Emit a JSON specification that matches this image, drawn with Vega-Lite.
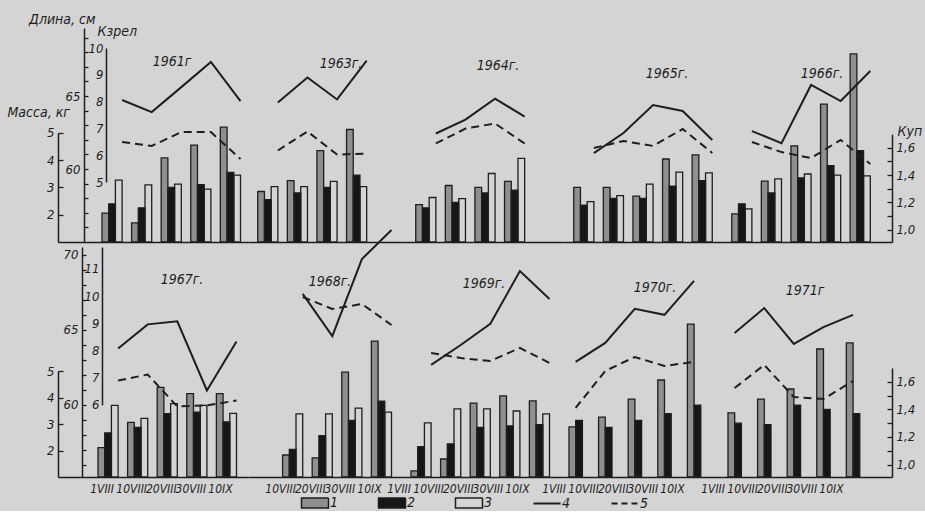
{
"$schema": "https://vega.github.io/schema/vega-lite/v6.json",
"background": "#d4d4d4",
"padding": {"left": 7, "top": 12, "right": 5, "bottom": 0},
"config": {"view": {"stroke": null}, "font": "Liberation Sans Narrow, DejaVu Sans Condensed, Liberation Sans, sans-serif",
 "axis": {"grid": false, "domainColor": "#1e1e1e", "tickColor": "#1e1e1e", "labelColor": "#1e1e1e", "titleColor": "#1e1e1e", "labelFontStyle": "italic", "titleFontStyle": "italic", "titleFontWeight": "normal", "domainWidth": 1.5, "tickWidth": 1.3, "labelFontSize": 13, "titleFontSize": 14, "labelFlush": false, "labelOverlap": false},
 "title": {"fontStyle": "italic", "fontWeight": "normal", "fontSize": 14, "color": "#1e1e1e", "anchor": "middle", "frame": "group", "baseline": "alphabetic"}},
"data": {"values": [
{"yr":1961,"d":"1VIII","s":"1","v":2.06},{"yr":1961,"d":"10VIII","s":"1","v":1.70},{"yr":1961,"d":"20VIII","s":"1","v":4.08},{"yr":1961,"d":"30VIII","s":"1","v":4.55},{"yr":1961,"d":"10IX","s":"1","v":5.21},
{"yr":1961,"d":"1VIII","s":"2","v":1.19},{"yr":1961,"d":"10VIII","s":"2","v":1.16},{"yr":1961,"d":"20VIII","s":"2","v":1.31},{"yr":1961,"d":"30VIII","s":"2","v":1.33},{"yr":1961,"d":"10IX","s":"2","v":1.42},
{"yr":1961,"d":"1VIII","s":"3","v":3.27},{"yr":1961,"d":"10VIII","s":"3","v":3.09},{"yr":1961,"d":"20VIII","s":"3","v":3.12},{"yr":1961,"d":"30VIII","s":"3","v":2.94},{"yr":1961,"d":"10IX","s":"3","v":3.45},
{"yr":1961,"d":"1VIII","s":"4","v":8.06},{"yr":1961,"d":"10VIII","s":"4","v":7.61},{"yr":1961,"d":"20VIII","s":"4","v":8.54},{"yr":1961,"d":"30VIII","s":"4","v":9.48},{"yr":1961,"d":"10IX","s":"4","v":8.02},
{"yr":1961,"d":"1VIII","s":"5","v":61.85},{"yr":1961,"d":"10VIII","s":"5","v":61.58},{"yr":1961,"d":"20VIII","s":"5","v":62.53},{"yr":1961,"d":"30VIII","s":"5","v":62.53},{"yr":1961,"d":"10IX","s":"5","v":60.68},
{"yr":1963,"d":"1VIII","s":"1","v":2.85},{"yr":1963,"d":"10VIII","s":"1","v":3.25},{"yr":1963,"d":"20VIII","s":"1","v":4.35},{"yr":1963,"d":"30VIII","s":"1","v":5.12},
{"yr":1963,"d":"1VIII","s":"2","v":1.22},{"yr":1963,"d":"10VIII","s":"2","v":1.27},{"yr":1963,"d":"20VIII","s":"2","v":1.31},{"yr":1963,"d":"30VIII","s":"2","v":1.40},
{"yr":1963,"d":"1VIII","s":"3","v":3.03},{"yr":1963,"d":"10VIII","s":"3","v":3.03},{"yr":1963,"d":"20VIII","s":"3","v":3.22},{"yr":1963,"d":"30VIII","s":"3","v":3.03},
{"yr":1963,"d":"1VIII","s":"4","v":7.97},{"yr":1963,"d":"10VIII","s":"4","v":8.90},{"yr":1963,"d":"20VIII","s":"4","v":8.08},{"yr":1963,"d":"30VIII","s":"4","v":9.53},
{"yr":1963,"d":"1VIII","s":"5","v":61.27},{"yr":1963,"d":"10VIII","s":"5","v":62.57},{"yr":1963,"d":"20VIII","s":"5","v":60.99},{"yr":1963,"d":"30VIII","s":"5","v":61.06},
{"yr":1964,"d":"1VIII","s":"1","v":2.37},{"yr":1964,"d":"10VIII","s":"1","v":3.07},{"yr":1964,"d":"20VIII","s":"1","v":3.00},{"yr":1964,"d":"30VIII","s":"1","v":3.22},
{"yr":1964,"d":"1VIII","s":"2","v":1.16},{"yr":1964,"d":"10VIII","s":"2","v":1.20},{"yr":1964,"d":"20VIII","s":"2","v":1.27},{"yr":1964,"d":"30VIII","s":"2","v":1.29},
{"yr":1964,"d":"1VIII","s":"3","v":2.63},{"yr":1964,"d":"10VIII","s":"3","v":2.59},{"yr":1964,"d":"20VIII","s":"3","v":3.51},{"yr":1964,"d":"30VIII","s":"3","v":4.06},
{"yr":1964,"d":"1VIII","s":"4","v":6.81},{"yr":1964,"d":"10VIII","s":"4","v":7.33},{"yr":1964,"d":"20VIII","s":"4","v":8.11},{"yr":1964,"d":"30VIII","s":"4","v":7.44},
{"yr":1964,"d":"1VIII","s":"5","v":61.75},{"yr":1964,"d":"10VIII","s":"5","v":62.77},{"yr":1964,"d":"20VIII","s":"5","v":63.12},{"yr":1964,"d":"30VIII","s":"5","v":61.75},
{"yr":1965,"d":"1VIII","s":"1","v":3.00},{"yr":1965,"d":"10VIII","s":"1","v":3.00},{"yr":1965,"d":"20VIII","s":"1","v":2.68},{"yr":1965,"d":"30VIII","s":"1","v":4.04},{"yr":1965,"d":"10IX","s":"1","v":4.19},
{"yr":1965,"d":"1VIII","s":"2","v":1.18},{"yr":1965,"d":"10VIII","s":"2","v":1.23},{"yr":1965,"d":"20VIII","s":"2","v":1.23},{"yr":1965,"d":"30VIII","s":"2","v":1.32},{"yr":1965,"d":"10IX","s":"2","v":1.36},
{"yr":1965,"d":"1VIII","s":"3","v":2.48},{"yr":1965,"d":"10VIII","s":"3","v":2.70},{"yr":1965,"d":"20VIII","s":"3","v":3.12},{"yr":1965,"d":"30VIII","s":"3","v":3.56},{"yr":1965,"d":"10IX","s":"3","v":3.53},
{"yr":1965,"d":"1VIII","s":"4","v":6.08},{"yr":1965,"d":"10VIII","s":"4","v":6.83},{"yr":1965,"d":"20VIII","s":"4","v":7.87},{"yr":1965,"d":"30VIII","s":"4","v":7.65},{"yr":1965,"d":"10IX","s":"4","v":6.57},
{"yr":1965,"d":"1VIII","s":"5","v":61.44},{"yr":1965,"d":"10VIII","s":"5","v":61.92},{"yr":1965,"d":"20VIII","s":"5","v":61.58},{"yr":1965,"d":"30VIII","s":"5","v":62.74},{"yr":1965,"d":"10IX","s":"5","v":61.10},
{"yr":1966,"d":"1VIII","s":"1","v":2.03},{"yr":1966,"d":"10VIII","s":"1","v":3.23},{"yr":1966,"d":"20VIII","s":"1","v":4.52},{"yr":1966,"d":"30VIII","s":"1","v":6.05},{"yr":1966,"d":"10IX","s":"1","v":7.89},
{"yr":1966,"d":"1VIII","s":"2","v":1.19},{"yr":1966,"d":"10VIII","s":"2","v":1.27},{"yr":1966,"d":"20VIII","s":"2","v":1.38},{"yr":1966,"d":"30VIII","s":"2","v":1.47},{"yr":1966,"d":"10IX","s":"2","v":1.58},
{"yr":1966,"d":"1VIII","s":"3","v":2.21},{"yr":1966,"d":"10VIII","s":"3","v":3.31},{"yr":1966,"d":"20VIII","s":"3","v":3.49},{"yr":1966,"d":"30VIII","s":"3","v":3.45},{"yr":1966,"d":"10IX","s":"3","v":3.42},
{"yr":1966,"d":"1VIII","s":"4","v":6.90},{"yr":1966,"d":"10VIII","s":"4","v":6.45},{"yr":1966,"d":"20VIII","s":"4","v":8.62},{"yr":1966,"d":"30VIII","s":"4","v":8.02},{"yr":1966,"d":"10IX","s":"4","v":9.14},
{"yr":1966,"d":"1VIII","s":"5","v":61.85},{"yr":1966,"d":"10VIII","s":"5","v":61.16},{"yr":1966,"d":"20VIII","s":"5","v":60.75},{"yr":1966,"d":"30VIII","s":"5","v":61.99},{"yr":1966,"d":"10IX","s":"5","v":60.34},
{"yr":1967,"d":"1VIII","s":"1","v":2.11},{"yr":1967,"d":"10VIII","s":"1","v":3.06},{"yr":1967,"d":"20VIII","s":"1","v":4.38},{"yr":1967,"d":"30VIII","s":"1","v":4.15},{"yr":1967,"d":"10IX","s":"1","v":4.15},
{"yr":1967,"d":"1VIII","s":"2","v":1.23},{"yr":1967,"d":"10VIII","s":"2","v":1.27},{"yr":1967,"d":"20VIII","s":"2","v":1.37},{"yr":1967,"d":"30VIII","s":"2","v":1.38},{"yr":1967,"d":"10IX","s":"2","v":1.31},
{"yr":1967,"d":"1VIII","s":"3","v":3.70},{"yr":1967,"d":"10VIII","s":"3","v":3.21},{"yr":1967,"d":"20VIII","s":"3","v":3.77},{"yr":1967,"d":"30VIII","s":"3","v":3.70},{"yr":1967,"d":"10IX","s":"3","v":3.40},
{"yr":1967,"d":"1VIII","s":"4","v":8.07},{"yr":1967,"d":"10VIII","s":"4","v":8.96},{"yr":1967,"d":"20VIII","s":"4","v":9.07},{"yr":1967,"d":"30VIII","s":"4","v":6.53},{"yr":1967,"d":"10IX","s":"4","v":8.33},
{"yr":1967,"d":"1VIII","s":"5","v":61.63},{"yr":1967,"d":"10VIII","s":"5","v":62.03},{"yr":1967,"d":"20VIII","s":"5","v":59.90},{"yr":1967,"d":"30VIII","s":"5","v":59.97},{"yr":1967,"d":"10IX","s":"5","v":60.30},
{"yr":1968,"d":"10VIII","s":"1","v":1.83},{"yr":1968,"d":"20VIII","s":"1","v":1.72},{"yr":1968,"d":"30VIII","s":"1","v":4.96},{"yr":1968,"d":"10IX","s":"1","v":6.13},
{"yr":1968,"d":"10VIII","s":"2","v":1.11},{"yr":1968,"d":"20VIII","s":"2","v":1.21},{"yr":1968,"d":"30VIII","s":"2","v":1.32},{"yr":1968,"d":"10IX","s":"2","v":1.46},
{"yr":1968,"d":"10VIII","s":"3","v":3.38},{"yr":1968,"d":"20VIII","s":"3","v":3.38},{"yr":1968,"d":"30VIII","s":"3","v":3.60},{"yr":1968,"d":"10IX","s":"3","v":3.45},
{"yr":1968,"d":"10VIII","s":"4","v":10.08},{"yr":1968,"d":"20VIII","s":"4","v":8.53},{"yr":1968,"d":"30VIII","s":"4","v":11.36},{"yr":1968,"d":"10IX","s":"4","v":12.43},
{"yr":1968,"d":"10VIII","s":"5","v":67.20},{"yr":1968,"d":"20VIII","s":"5","v":66.40},{"yr":1968,"d":"30VIII","s":"5","v":66.73},{"yr":1968,"d":"10IX","s":"5","v":65.33},
{"yr":1969,"d":"1VIII","s":"1","v":1.23},{"yr":1969,"d":"10VIII","s":"1","v":1.68},{"yr":1969,"d":"20VIII","s":"1","v":3.79},{"yr":1969,"d":"30VIII","s":"1","v":4.06},{"yr":1969,"d":"10IX","s":"1","v":3.87},
{"yr":1969,"d":"1VIII","s":"2","v":1.13},{"yr":1969,"d":"10VIII","s":"2","v":1.15},{"yr":1969,"d":"20VIII","s":"2","v":1.27},{"yr":1969,"d":"30VIII","s":"2","v":1.28},{"yr":1969,"d":"10IX","s":"2","v":1.29},
{"yr":1969,"d":"1VIII","s":"3","v":3.04},{"yr":1969,"d":"10VIII","s":"3","v":3.57},{"yr":1969,"d":"20VIII","s":"3","v":3.57},{"yr":1969,"d":"30VIII","s":"3","v":3.49},{"yr":1969,"d":"10IX","s":"3","v":3.38},
{"yr":1969,"d":"1VIII","s":"4","v":7.47},{"yr":1969,"d":"10VIII","s":"4","v":8.20},{"yr":1969,"d":"20VIII","s":"4","v":8.98},{"yr":1969,"d":"30VIII","s":"4","v":10.92},{"yr":1969,"d":"10IX","s":"4","v":9.89},
{"yr":1969,"d":"1VIII","s":"5","v":63.47},{"yr":1969,"d":"10VIII","s":"5","v":63.13},{"yr":1969,"d":"20VIII","s":"5","v":62.93},{"yr":1969,"d":"30VIII","s":"5","v":63.80},{"yr":1969,"d":"10IX","s":"5","v":62.80},
{"yr":1970,"d":"1VIII","s":"1","v":2.89},{"yr":1970,"d":"10VIII","s":"1","v":3.26},{"yr":1970,"d":"20VIII","s":"1","v":3.94},{"yr":1970,"d":"30VIII","s":"1","v":4.66},{"yr":1970,"d":"10IX","s":"1","v":6.77},
{"yr":1970,"d":"1VIII","s":"2","v":1.32},{"yr":1970,"d":"10VIII","s":"2","v":1.27},{"yr":1970,"d":"20VIII","s":"2","v":1.32},{"yr":1970,"d":"30VIII","s":"2","v":1.37},{"yr":1970,"d":"10IX","s":"2","v":1.43},
{"yr":1970,"d":"1VIII","s":"4","v":7.58},{"yr":1970,"d":"10VIII","s":"4","v":8.28},{"yr":1970,"d":"20VIII","s":"4","v":9.53},{"yr":1970,"d":"30VIII","s":"4","v":9.31},{"yr":1970,"d":"10IX","s":"4","v":10.56},
{"yr":1970,"d":"1VIII","s":"5","v":59.80},{"yr":1970,"d":"10VIII","s":"5","v":62.27},{"yr":1970,"d":"20VIII","s":"5","v":63.20},{"yr":1970,"d":"30VIII","s":"5","v":62.60},{"yr":1970,"d":"10IX","s":"5","v":62.87},
{"yr":1971,"d":"1VIII","s":"1","v":3.42},{"yr":1971,"d":"10VIII","s":"1","v":3.94},{"yr":1971,"d":"20VIII","s":"1","v":4.32},{"yr":1971,"d":"30VIII","s":"1","v":5.83},{"yr":1971,"d":"10IX","s":"1","v":6.06},
{"yr":1971,"d":"1VIII","s":"2","v":1.30},{"yr":1971,"d":"10VIII","s":"2","v":1.29},{"yr":1971,"d":"20VIII","s":"2","v":1.43},{"yr":1971,"d":"30VIII","s":"2","v":1.40},{"yr":1971,"d":"10IX","s":"2","v":1.37},
{"yr":1971,"d":"1VIII","s":"4","v":8.64},{"yr":1971,"d":"10VIII","s":"4","v":9.56},{"yr":1971,"d":"20VIII","s":"4","v":8.24},{"yr":1971,"d":"30VIII","s":"4","v":8.86},{"yr":1971,"d":"10IX","s":"4","v":9.31},
{"yr":1971,"d":"1VIII","s":"5","v":61.13},{"yr":1971,"d":"10VIII","s":"5","v":62.67},{"yr":1971,"d":"20VIII","s":"5","v":60.53},{"yr":1971,"d":"30VIII","s":"5","v":60.40},{"yr":1971,"d":"10IX","s":"5","v":61.60}
]},
"columns": 5,
"spacing": {"row": 5, "column": 0},
"bounds": "flush",
"concat": [
 {"width": 190, "height": 214, "title": {"text": "1961г", "dx": 19, "offset": -57},
  "transform": [{"filter": "datum.yr == 1961"}], "resolve": {"scale": {"y": "independent"}},
  "layer": [
   {"transform": [{"filter": "datum.s == '1' || datum.s == '3'"}], "mark": {"type": "bar", "stroke": "#1e1e1e", "strokeWidth": 1.3},
    "encoding": {
     "x": {"field": "d", "type": "ordinal", "scale": {"domain": ["_","1VIII","10VIII","20VIII","30VIII","10IX"], "paddingInner": 0.32, "paddingOuter": 0.37, "align": 0.657}, "axis": {"labels": false, "ticks": false, "title": null}},
     "xOffset": {"field": "s", "type": "nominal", "scale": {"domain": ["1","2","3"]}},
     "y": {"field": "v", "type": "quantitative", "scale": {"domain": [1,5], "range": [214,104.8], "nice": false, "zero": false},
           "axis": {"orient": "left", "offset": 0, "values": [2,3,4,5], "tickSize": -5, "labelPadding": 9, "title": "Масса, кг", "titleAngle": 0, "titleX": -51, "titleY": 88, "titleAlign": "left", "titleBaseline": "alphabetic"}},
     "y2": {"datum": 1},
     "fill": {"field": "s", "type": "nominal", "scale": {"domain": ["1","2","3","4","5"], "range": ["#8f8f8f","#161616","#d4d4d4","#161616","#161616"]},
       "legend": {"orient": "none", "legendX": 250, "legendY": 468, "direction": "horizontal", "title": null, "symbolType": "M-1,-0.37H1V0.37H-1Z", "symbolSize": 729, "symbolStrokeColor": "#1e1e1e", "symbolStrokeWidth": 1.5, "labelFontSize": 14, "labelFontStyle": "italic", "labelColor": "#1e1e1e", "labelOffset": 8, "columnPadding": 36,
         "encode": {"symbols": {"update": {"shape": {"signal": "datum.value > '3' ? 'M-1,0H1' : 'M-1,-0.37H1V0.37H-1Z'"}, "strokeDash": {"signal": "datum.value == '5' ? [6,4] : [1,0]"}, "strokeWidth": {"signal": "datum.value > '3' ? 2 : 1.5"}}}}}}
    }},
   {"transform": [{"filter": "datum.s == '2'"}], "mark": {"type": "bar", "stroke": "#1e1e1e", "strokeWidth": 1.3},
    "encoding": {
     "x": {"field": "d", "type": "ordinal", "scale": {"domain": ["_","1VIII","10VIII","20VIII","30VIII","10IX"], "paddingInner": 0.32, "paddingOuter": 0.37, "align": 0.657}},
     "xOffset": {"field": "s", "type": "nominal", "scale": {"domain": ["1","2","3"]}},
     "y": {"field": "v", "type": "quantitative", "scale": {"domain": [0.91,1.7], "range": [214,106.2], "nice": false, "zero": false}, "axis": null},
     "y2": {"datum": 0.91},
     "fill": {"field": "s", "type": "nominal", "scale": {"domain": ["1","2","3","4","5"], "range": ["#8f8f8f","#161616","#d4d4d4","#161616","#161616"]}}
    }},
   {"transform": [{"filter": "datum.s == '4'"}], "mark": {"type": "line", "stroke": "#1e1e1e", "strokeWidth": 2},
    "encoding": {
     "x": {"field": "d", "type": "ordinal", "bandPosition": 1, "scale": {"domain": ["_","1VIII","10VIII","20VIII","30VIII","10IX"], "paddingInner": 0.32, "paddingOuter": 0.37, "align": 0.657}},
     "y": {"field": "v", "type": "quantitative", "scale": {"domain": [5,10], "range": [154,20], "nice": false, "zero": false},
           "axis": {"orient": "left", "offset": -48, "values": [5,6,7,8,9,10], "ticks": false, "labelPadding": 3, "title": "Кзрел", "titleAngle": 0, "titleX": -9, "titleY": 7, "titleAlign": "left", "titleBaseline": "alphabetic"}},
     "order": {"value": null}
    }},
   {"transform": [{"filter": "datum.s == '5'"}], "mark": {"type": "line", "stroke": "#1e1e1e", "strokeWidth": 2, "strokeDash": [8,5]},
    "encoding": {
     "x": {"field": "d", "type": "ordinal", "bandPosition": 1, "scale": {"domain": ["_","1VIII","10VIII","20VIII","30VIII","10IX"], "paddingInner": 0.32, "paddingOuter": 0.37, "align": 0.657}},
     "y": {"field": "v", "type": "quantitative", "scale": {"domain": [55,69.66], "range": [214,0], "nice": false, "zero": false},
           "axis": {"orient": "left", "offset": -26, "values": [56,57,58,59,60,61,62,63,64,65,66,67,68,69], "tickSize": -4, "labelPadding": 8, "labelExpr": "datum.value % 5 == 0 ? datum.label : ''", "title": "Длина, см", "titleAngle": 0, "titleX": 11, "titleY": -5, "titleAlign": "right", "titleBaseline": "alphabetic"}},
     "order": {"value": null}
    }}
  ]},
 {"width": 158, "height": 214, "title": {"text": "1963г.", "dx": 14, "offset": -43},
  "transform": [{"filter": "datum.yr == 1963"}], "resolve": {"scale": {"y": "independent"}},
  "layer": [
   {"transform": [{"filter": "datum.s == '1' || datum.s == '3'"}], "mark": {"type": "bar", "stroke": "#1e1e1e", "strokeWidth": 1.3},
    "encoding": {
     "x": {"field": "d", "type": "ordinal", "scale": {"domain": ["1VIII","10VIII","20VIII","30VIII","10IX"], "paddingInner": 0.32, "paddingOuter": 0.329, "align": 0.5}, "axis": {"labels": false, "ticks": false, "title": null}},
     "xOffset": {"field": "s", "type": "nominal", "scale": {"domain": ["1","2","3"]}},
     "y": {"field": "v", "type": "quantitative", "scale": {"domain": [1,5], "range": [214,104.8], "nice": false, "zero": false}, "axis": null},
     "y2": {"datum": 1},
     "fill": {"field": "s", "type": "nominal", "scale": {"domain": ["1","2","3","4","5"], "range": ["#8f8f8f","#161616","#d4d4d4","#161616","#161616"]}}
    }},
   {"transform": [{"filter": "datum.s == '2'"}], "mark": {"type": "bar", "stroke": "#1e1e1e", "strokeWidth": 1.3},
    "encoding": {
     "x": {"field": "d", "type": "ordinal", "scale": {"domain": ["1VIII","10VIII","20VIII","30VIII","10IX"], "paddingInner": 0.32, "paddingOuter": 0.329, "align": 0.5}},
     "xOffset": {"field": "s", "type": "nominal", "scale": {"domain": ["1","2","3"]}},
     "y": {"field": "v", "type": "quantitative", "scale": {"domain": [0.91,1.7], "range": [214,106.2], "nice": false, "zero": false}, "axis": null},
     "y2": {"datum": 0.91},
     "fill": {"field": "s", "type": "nominal", "scale": {"domain": ["1","2","3","4","5"], "range": ["#8f8f8f","#161616","#d4d4d4","#161616","#161616"]}}
    }},
   {"transform": [{"filter": "datum.s == '4'"}], "mark": {"type": "line", "stroke": "#1e1e1e", "strokeWidth": 2},
    "encoding": {
     "x": {"field": "d", "type": "ordinal", "bandPosition": 1, "scale": {"domain": ["1VIII","10VIII","20VIII","30VIII","10IX"], "paddingInner": 0.32, "paddingOuter": 0.329, "align": 0.5}},
     "y": {"field": "v", "type": "quantitative", "scale": {"domain": [5,10], "range": [154,20], "nice": false, "zero": false}, "axis": null},
     "order": {"value": null}
    }},
   {"transform": [{"filter": "datum.s == '5'"}], "mark": {"type": "line", "stroke": "#1e1e1e", "strokeWidth": 2, "strokeDash": [8,5]},
    "encoding": {
     "x": {"field": "d", "type": "ordinal", "bandPosition": 1, "scale": {"domain": ["1VIII","10VIII","20VIII","30VIII","10IX"], "paddingInner": 0.32, "paddingOuter": 0.329, "align": 0.5}},
     "y": {"field": "v", "type": "quantitative", "scale": {"domain": [55,69.66], "range": [214,0], "nice": false, "zero": false}, "axis": null},
     "order": {"value": null}
    }}
  ]},
 {"width": 158, "height": 214, "title": {"text": "1964г.", "dx": 13, "offset": -45},
  "transform": [{"filter": "datum.yr == 1964"}], "resolve": {"scale": {"y": "independent"}},
  "layer": [
   {"transform": [{"filter": "datum.s == '1' || datum.s == '3'"}], "mark": {"type": "bar", "stroke": "#1e1e1e", "strokeWidth": 1.3},
    "encoding": {
     "x": {"field": "d", "type": "ordinal", "scale": {"domain": ["1VIII","10VIII","20VIII","30VIII","10IX"], "paddingInner": 0.32, "paddingOuter": 0.329, "align": 0.5}, "axis": {"labels": false, "ticks": false, "title": null}},
     "xOffset": {"field": "s", "type": "nominal", "scale": {"domain": ["1","2","3"]}},
     "y": {"field": "v", "type": "quantitative", "scale": {"domain": [1,5], "range": [214,104.8], "nice": false, "zero": false}, "axis": null},
     "y2": {"datum": 1},
     "fill": {"field": "s", "type": "nominal", "scale": {"domain": ["1","2","3","4","5"], "range": ["#8f8f8f","#161616","#d4d4d4","#161616","#161616"]}}
    }},
   {"transform": [{"filter": "datum.s == '2'"}], "mark": {"type": "bar", "stroke": "#1e1e1e", "strokeWidth": 1.3},
    "encoding": {
     "x": {"field": "d", "type": "ordinal", "scale": {"domain": ["1VIII","10VIII","20VIII","30VIII","10IX"], "paddingInner": 0.32, "paddingOuter": 0.329, "align": 0.5}},
     "xOffset": {"field": "s", "type": "nominal", "scale": {"domain": ["1","2","3"]}},
     "y": {"field": "v", "type": "quantitative", "scale": {"domain": [0.91,1.7], "range": [214,106.2], "nice": false, "zero": false}, "axis": null},
     "y2": {"datum": 0.91},
     "fill": {"field": "s", "type": "nominal", "scale": {"domain": ["1","2","3","4","5"], "range": ["#8f8f8f","#161616","#d4d4d4","#161616","#161616"]}}
    }},
   {"transform": [{"filter": "datum.s == '4'"}], "mark": {"type": "line", "stroke": "#1e1e1e", "strokeWidth": 2},
    "encoding": {
     "x": {"field": "d", "type": "ordinal", "bandPosition": 1, "scale": {"domain": ["1VIII","10VIII","20VIII","30VIII","10IX"], "paddingInner": 0.32, "paddingOuter": 0.329, "align": 0.5}},
     "y": {"field": "v", "type": "quantitative", "scale": {"domain": [5,10], "range": [154,20], "nice": false, "zero": false}, "axis": null},
     "order": {"value": null}
    }},
   {"transform": [{"filter": "datum.s == '5'"}], "mark": {"type": "line", "stroke": "#1e1e1e", "strokeWidth": 2, "strokeDash": [8,5]},
    "encoding": {
     "x": {"field": "d", "type": "ordinal", "bandPosition": 1, "scale": {"domain": ["1VIII","10VIII","20VIII","30VIII","10IX"], "paddingInner": 0.32, "paddingOuter": 0.329, "align": 0.5}},
     "y": {"field": "v", "type": "quantitative", "scale": {"domain": [55,69.66], "range": [214,0], "nice": false, "zero": false}, "axis": null},
     "order": {"value": null}
    }}
  ]},
 {"width": 158, "height": 214, "title": {"text": "1965г.", "dx": 24, "offset": -53},
  "transform": [{"filter": "datum.yr == 1965"}], "resolve": {"scale": {"y": "independent"}},
  "layer": [
   {"transform": [{"filter": "datum.s == '1' || datum.s == '3'"}], "mark": {"type": "bar", "stroke": "#1e1e1e", "strokeWidth": 1.3},
    "encoding": {
     "x": {"field": "d", "type": "ordinal", "scale": {"domain": ["1VIII","10VIII","20VIII","30VIII","10IX"], "paddingInner": 0.32, "paddingOuter": 0.329, "align": 0.5}, "axis": {"labels": false, "ticks": false, "title": null}},
     "xOffset": {"field": "s", "type": "nominal", "scale": {"domain": ["1","2","3"]}},
     "y": {"field": "v", "type": "quantitative", "scale": {"domain": [1,5], "range": [214,104.8], "nice": false, "zero": false}, "axis": null},
     "y2": {"datum": 1},
     "fill": {"field": "s", "type": "nominal", "scale": {"domain": ["1","2","3","4","5"], "range": ["#8f8f8f","#161616","#d4d4d4","#161616","#161616"]}}
    }},
   {"transform": [{"filter": "datum.s == '2'"}], "mark": {"type": "bar", "stroke": "#1e1e1e", "strokeWidth": 1.3},
    "encoding": {
     "x": {"field": "d", "type": "ordinal", "scale": {"domain": ["1VIII","10VIII","20VIII","30VIII","10IX"], "paddingInner": 0.32, "paddingOuter": 0.329, "align": 0.5}},
     "xOffset": {"field": "s", "type": "nominal", "scale": {"domain": ["1","2","3"]}},
     "y": {"field": "v", "type": "quantitative", "scale": {"domain": [0.91,1.7], "range": [214,106.2], "nice": false, "zero": false}, "axis": null},
     "y2": {"datum": 0.91},
     "fill": {"field": "s", "type": "nominal", "scale": {"domain": ["1","2","3","4","5"], "range": ["#8f8f8f","#161616","#d4d4d4","#161616","#161616"]}}
    }},
   {"transform": [{"filter": "datum.s == '4'"}], "mark": {"type": "line", "stroke": "#1e1e1e", "strokeWidth": 2},
    "encoding": {
     "x": {"field": "d", "type": "ordinal", "bandPosition": 1, "scale": {"domain": ["1VIII","10VIII","20VIII","30VIII","10IX"], "paddingInner": 0.32, "paddingOuter": 0.329, "align": 0.5}},
     "y": {"field": "v", "type": "quantitative", "scale": {"domain": [5,10], "range": [154,20], "nice": false, "zero": false}, "axis": null},
     "order": {"value": null}
    }},
   {"transform": [{"filter": "datum.s == '5'"}], "mark": {"type": "line", "stroke": "#1e1e1e", "strokeWidth": 2, "strokeDash": [8,5]},
    "encoding": {
     "x": {"field": "d", "type": "ordinal", "bandPosition": 1, "scale": {"domain": ["1VIII","10VIII","20VIII","30VIII","10IX"], "paddingInner": 0.32, "paddingOuter": 0.329, "align": 0.5}},
     "y": {"field": "v", "type": "quantitative", "scale": {"domain": [55,69.66], "range": [214,0], "nice": false, "zero": false}, "axis": null},
     "order": {"value": null}
    }}
  ]},
 {"width": 170, "height": 214, "title": {"text": "1966г.", "dx": 15, "offset": -53},
  "transform": [{"filter": "datum.yr == 1966"}], "resolve": {"scale": {"y": "independent"}},
  "layer": [
   {"transform": [{"filter": "datum.s == '1' || datum.s == '3'"}], "mark": {"type": "bar", "stroke": "#1e1e1e", "strokeWidth": 1.3},
    "encoding": {
     "x": {"field": "d", "type": "ordinal", "scale": {"domain": ["1VIII","10VIII","20VIII","30VIII","10IX"], "paddingInner": 0.32, "paddingOuter": 0.532, "align": 0.31}, "axis": {"labels": false, "ticks": false, "title": null}},
     "xOffset": {"field": "s", "type": "nominal", "scale": {"domain": ["1","2","3"]}},
     "y": {"field": "v", "type": "quantitative", "scale": {"domain": [1,5], "range": [214,104.8], "nice": false, "zero": false}, "axis": null},
     "y2": {"datum": 1},
     "fill": {"field": "s", "type": "nominal", "scale": {"domain": ["1","2","3","4","5"], "range": ["#8f8f8f","#161616","#d4d4d4","#161616","#161616"]}}
    }},
   {"transform": [{"filter": "datum.s == '2'"}], "mark": {"type": "bar", "stroke": "#1e1e1e", "strokeWidth": 1.3},
    "encoding": {
     "x": {"field": "d", "type": "ordinal", "scale": {"domain": ["1VIII","10VIII","20VIII","30VIII","10IX"], "paddingInner": 0.32, "paddingOuter": 0.532, "align": 0.31}},
     "xOffset": {"field": "s", "type": "nominal", "scale": {"domain": ["1","2","3"]}},
     "y": {"field": "v", "type": "quantitative", "scale": {"domain": [0.91,1.7], "range": [214,106.2], "nice": false, "zero": false},
           "axis": {"orient": "right", "offset": 0, "values": [1.0,1.1,1.2,1.3,1.4,1.5,1.6], "tickSize": -5, "labelPadding": 9, "labelAlign": "left", "labelExpr": "indexof(['1.0','1.2','1.4','1.6'], format(datum.value, '.1f')) >= 0 ? replace(format(datum.value, '.1f'), '.', ',') : ''", "title": "Куп", "titleAngle": 0, "titleX": 5, "titleY": 107, "titleAlign": "left", "titleBaseline": "alphabetic"}},
     "y2": {"datum": 0.91},
     "fill": {"field": "s", "type": "nominal", "scale": {"domain": ["1","2","3","4","5"], "range": ["#8f8f8f","#161616","#d4d4d4","#161616","#161616"]}}
    }},
   {"transform": [{"filter": "datum.s == '4'"}], "mark": {"type": "line", "stroke": "#1e1e1e", "strokeWidth": 2},
    "encoding": {
     "x": {"field": "d", "type": "ordinal", "bandPosition": 1, "scale": {"domain": ["1VIII","10VIII","20VIII","30VIII","10IX"], "paddingInner": 0.32, "paddingOuter": 0.532, "align": 0.31}},
     "y": {"field": "v", "type": "quantitative", "scale": {"domain": [5,10], "range": [154,20], "nice": false, "zero": false}, "axis": null},
     "order": {"value": null}
    }},
   {"transform": [{"filter": "datum.s == '5'"}], "mark": {"type": "line", "stroke": "#1e1e1e", "strokeWidth": 2, "strokeDash": [8,5]},
    "encoding": {
     "x": {"field": "d", "type": "ordinal", "bandPosition": 1, "scale": {"domain": ["1VIII","10VIII","20VIII","30VIII","10IX"], "paddingInner": 0.32, "paddingOuter": 0.532, "align": 0.31}},
     "y": {"field": "v", "type": "quantitative", "scale": {"domain": [55,69.66], "range": [214,0], "nice": false, "zero": false}, "axis": null},
     "order": {"value": null}
    }}
  ]},
 {"width": 190, "height": 230, "title": {"text": "1967г.", "dx": 29, "offset": -40},
  "transform": [{"filter": "datum.yr == 1967"}], "resolve": {"scale": {"y": "independent"}},
  "layer": [
   {"transform": [{"filter": "datum.s == '1' || datum.s == '3'"}], "mark": {"type": "bar", "stroke": "#1e1e1e", "strokeWidth": 1.3},
    "encoding": {
     "x": {"field": "d", "type": "ordinal", "scale": {"domain": ["_","1VIII","10VIII","20VIII","30VIII","10IX"], "paddingInner": 0.32, "paddingOuter": 0.37, "align": 0.475}, "axis": {"values": ["1VIII","10VIII","20VIII","30VIII","10IX"], "ticks": false, "labelPadding": 6, "labelOffset": -6, "labelFontSize": 12, "labelAngle": 0, "title": null}},
     "xOffset": {"field": "s", "type": "nominal", "scale": {"domain": ["1","2","3"]}},
     "y": {"field": "v", "type": "quantitative", "scale": {"domain": [1,5], "range": [230,124], "nice": false, "zero": false},
           "axis": {"orient": "left", "offset": 0, "values": [2,3,4,5], "tickSize": -5, "labelPadding": 9, "title": null}},
     "y2": {"datum": 1},
     "fill": {"field": "s", "type": "nominal", "scale": {"domain": ["1","2","3","4","5"], "range": ["#8f8f8f","#161616","#d4d4d4","#161616","#161616"]}}
    }},
   {"transform": [{"filter": "datum.s == '2'"}], "mark": {"type": "bar", "stroke": "#1e1e1e", "strokeWidth": 1.3},
    "encoding": {
     "x": {"field": "d", "type": "ordinal", "scale": {"domain": ["_","1VIII","10VIII","20VIII","30VIII","10IX"], "paddingInner": 0.32, "paddingOuter": 0.37, "align": 0.475}},
     "xOffset": {"field": "s", "type": "nominal", "scale": {"domain": ["1","2","3"]}},
     "y": {"field": "v", "type": "quantitative", "scale": {"domain": [0.91,1.7], "range": [230,121], "nice": false, "zero": false}, "axis": null},
     "y2": {"datum": 0.91},
     "fill": {"field": "s", "type": "nominal", "scale": {"domain": ["1","2","3","4","5"], "range": ["#8f8f8f","#161616","#d4d4d4","#161616","#161616"]}}
    }},
   {"transform": [{"filter": "datum.s == '4'"}], "mark": {"type": "line", "stroke": "#1e1e1e", "strokeWidth": 2},
    "encoding": {
     "x": {"field": "d", "type": "ordinal", "bandPosition": 1, "scale": {"domain": ["_","1VIII","10VIII","20VIII","30VIII","10IX"], "paddingInner": 0.32, "paddingOuter": 0.37, "align": 0.475}},
     "y": {"field": "v", "type": "quantitative", "scale": {"domain": [6,11.8], "range": [157.9,0.1], "nice": false, "zero": false},
           "axis": {"orient": "left", "offset": -44, "values": [6,7,8,9,10,11], "ticks": false, "labelPadding": 3, "title": null}},
     "order": {"value": null}
    }},
   {"transform": [{"filter": "datum.s == '5'"}], "mark": {"type": "line", "stroke": "#1e1e1e", "strokeWidth": 2, "strokeDash": [8,5]},
    "encoding": {
     "x": {"field": "d", "type": "ordinal", "bandPosition": 1, "scale": {"domain": ["_","1VIII","10VIII","20VIII","30VIII","10IX"], "paddingInner": 0.32, "paddingOuter": 0.37, "align": 0.475}},
     "y": {"field": "v", "type": "quantitative", "scale": {"domain": [55.2,70.53], "range": [230,0], "nice": false, "zero": false},
           "axis": {"orient": "left", "offset": -24, "values": [56,57,58,59,60,61,62,63,64,65,66,67,68,69,70], "tickSize": -4, "labelPadding": 8, "labelExpr": "datum.value % 5 == 0 ? datum.label : ''", "title": null}},
     "order": {"value": null}
    }}
  ]},
 {"width": 158, "height": 230, "title": {"text": "1968г.", "dx": 3, "offset": -63},
  "transform": [{"filter": "datum.yr == 1968"}], "resolve": {"scale": {"y": "independent"}},
  "layer": [
   {"transform": [{"filter": "datum.s == '1' || datum.s == '3'"}], "mark": {"type": "bar", "stroke": "#1e1e1e", "strokeWidth": 1.3},
    "encoding": {
     "x": {"field": "d", "type": "ordinal", "scale": {"domain": ["1VIII","10VIII","20VIII","30VIII","10IX"], "paddingInner": 0.32, "paddingOuter": 0.329, "align": 0.256}, "axis": {"values": ["10VIII","20VIII","30VIII","10IX"], "ticks": false, "labelPadding": 6, "labelOffset": -12, "labelFontSize": 12, "labelAngle": 0, "title": null}},
     "xOffset": {"field": "s", "type": "nominal", "scale": {"domain": ["1","2","3"]}},
     "y": {"field": "v", "type": "quantitative", "scale": {"domain": [1,5], "range": [230,124], "nice": false, "zero": false}, "axis": null},
     "y2": {"datum": 1},
     "fill": {"field": "s", "type": "nominal", "scale": {"domain": ["1","2","3","4","5"], "range": ["#8f8f8f","#161616","#d4d4d4","#161616","#161616"]}}
    }},
   {"transform": [{"filter": "datum.s == '2'"}], "mark": {"type": "bar", "stroke": "#1e1e1e", "strokeWidth": 1.3},
    "encoding": {
     "x": {"field": "d", "type": "ordinal", "scale": {"domain": ["1VIII","10VIII","20VIII","30VIII","10IX"], "paddingInner": 0.32, "paddingOuter": 0.329, "align": 0.256}},
     "xOffset": {"field": "s", "type": "nominal", "scale": {"domain": ["1","2","3"]}},
     "y": {"field": "v", "type": "quantitative", "scale": {"domain": [0.91,1.7], "range": [230,121], "nice": false, "zero": false}, "axis": null},
     "y2": {"datum": 0.91},
     "fill": {"field": "s", "type": "nominal", "scale": {"domain": ["1","2","3","4","5"], "range": ["#8f8f8f","#161616","#d4d4d4","#161616","#161616"]}}
    }},
   {"transform": [{"filter": "datum.s == '4'"}], "mark": {"type": "line", "stroke": "#1e1e1e", "strokeWidth": 2},
    "encoding": {
     "x": {"field": "d", "type": "ordinal", "bandPosition": 1, "scale": {"domain": ["1VIII","10VIII","20VIII","30VIII","10IX"], "paddingInner": 0.32, "paddingOuter": 0.329, "align": 0.256}},
     "y": {"field": "v", "type": "quantitative", "scale": {"domain": [6,11.8], "range": [157.9,0.1], "nice": false, "zero": false}, "axis": null},
     "order": {"value": null}
    }},
   {"transform": [{"filter": "datum.s == '5'"}], "mark": {"type": "line", "stroke": "#1e1e1e", "strokeWidth": 2, "strokeDash": [8,5]},
    "encoding": {
     "x": {"field": "d", "type": "ordinal", "bandPosition": 1, "scale": {"domain": ["1VIII","10VIII","20VIII","30VIII","10IX"], "paddingInner": 0.32, "paddingOuter": 0.329, "align": 0.256}},
     "y": {"field": "v", "type": "quantitative", "scale": {"domain": [55.2,70.53], "range": [230,0], "nice": false, "zero": false}, "axis": null},
     "order": {"value": null}
    }}
  ]},
 {"width": 158, "height": 230, "title": {"text": "1969г.", "dx": -1, "offset": -44},
  "transform": [{"filter": "datum.yr == 1969"}], "resolve": {"scale": {"y": "independent"}},
  "layer": [
   {"transform": [{"filter": "datum.s == '1' || datum.s == '3'"}], "mark": {"type": "bar", "stroke": "#1e1e1e", "strokeWidth": 1.3},
    "encoding": {
     "x": {"field": "d", "type": "ordinal", "scale": {"domain": ["1VIII","10VIII","20VIII","30VIII","10IX"], "paddingInner": 0.32, "paddingOuter": 0.329, "align": 0.256}, "axis": {"values": ["1VIII","10VIII","20VIII","30VIII","10IX"], "ticks": false, "labelPadding": 6, "labelOffset": -22, "labelFontSize": 12, "labelAngle": 0, "title": null}},
     "xOffset": {"field": "s", "type": "nominal", "scale": {"domain": ["1","2","3"]}},
     "y": {"field": "v", "type": "quantitative", "scale": {"domain": [1,5], "range": [230,124], "nice": false, "zero": false}, "axis": null},
     "y2": {"datum": 1},
     "fill": {"field": "s", "type": "nominal", "scale": {"domain": ["1","2","3","4","5"], "range": ["#8f8f8f","#161616","#d4d4d4","#161616","#161616"]}}
    }},
   {"transform": [{"filter": "datum.s == '2'"}], "mark": {"type": "bar", "stroke": "#1e1e1e", "strokeWidth": 1.3},
    "encoding": {
     "x": {"field": "d", "type": "ordinal", "scale": {"domain": ["1VIII","10VIII","20VIII","30VIII","10IX"], "paddingInner": 0.32, "paddingOuter": 0.329, "align": 0.256}},
     "xOffset": {"field": "s", "type": "nominal", "scale": {"domain": ["1","2","3"]}},
     "y": {"field": "v", "type": "quantitative", "scale": {"domain": [0.91,1.7], "range": [230,121], "nice": false, "zero": false}, "axis": null},
     "y2": {"datum": 0.91},
     "fill": {"field": "s", "type": "nominal", "scale": {"domain": ["1","2","3","4","5"], "range": ["#8f8f8f","#161616","#d4d4d4","#161616","#161616"]}}
    }},
   {"transform": [{"filter": "datum.s == '4'"}], "mark": {"type": "line", "stroke": "#1e1e1e", "strokeWidth": 2},
    "encoding": {
     "x": {"field": "d", "type": "ordinal", "bandPosition": 1, "scale": {"domain": ["1VIII","10VIII","20VIII","30VIII","10IX"], "paddingInner": 0.32, "paddingOuter": 0.329, "align": 0.256}},
     "y": {"field": "v", "type": "quantitative", "scale": {"domain": [6,11.8], "range": [157.9,0.1], "nice": false, "zero": false}, "axis": null},
     "order": {"value": null}
    }},
   {"transform": [{"filter": "datum.s == '5'"}], "mark": {"type": "line", "stroke": "#1e1e1e", "strokeWidth": 2, "strokeDash": [8,5]},
    "encoding": {
     "x": {"field": "d", "type": "ordinal", "bandPosition": 1, "scale": {"domain": ["1VIII","10VIII","20VIII","30VIII","10IX"], "paddingInner": 0.32, "paddingOuter": 0.329, "align": 0.256}},
     "y": {"field": "v", "type": "quantitative", "scale": {"domain": [55.2,70.53], "range": [230,0], "nice": false, "zero": false}, "axis": null},
     "order": {"value": null}
    }}
  ]},
 {"width": 158, "height": 230, "title": {"text": "1970г.", "dx": 12, "offset": -48},
  "transform": [{"filter": "datum.yr == 1970"}], "resolve": {"scale": {"y": "independent"}},
  "layer": [
   {"transform": [{"filter": "datum.s == '1' || datum.s == '3'"}], "mark": {"type": "bar", "stroke": "#1e1e1e", "strokeWidth": 1.3},
    "encoding": {
     "x": {"field": "d", "type": "ordinal", "scale": {"domain": ["1VIII","10VIII","20VIII","30VIII","10IX"], "paddingInner": 0.32, "paddingOuter": 0.329, "align": 0.256}, "axis": {"values": ["1VIII","10VIII","20VIII","30VIII","10IX"], "ticks": false, "labelPadding": 6, "labelOffset": -25, "labelFontSize": 12, "labelAngle": 0, "title": null}},
     "xOffset": {"field": "s", "type": "nominal", "scale": {"domain": ["1","2","3"]}},
     "y": {"field": "v", "type": "quantitative", "scale": {"domain": [1,5], "range": [230,124], "nice": false, "zero": false}, "axis": null},
     "y2": {"datum": 1},
     "fill": {"field": "s", "type": "nominal", "scale": {"domain": ["1","2","3","4","5"], "range": ["#8f8f8f","#161616","#d4d4d4","#161616","#161616"]}}
    }},
   {"transform": [{"filter": "datum.s == '2'"}], "mark": {"type": "bar", "stroke": "#1e1e1e", "strokeWidth": 1.3},
    "encoding": {
     "x": {"field": "d", "type": "ordinal", "scale": {"domain": ["1VIII","10VIII","20VIII","30VIII","10IX"], "paddingInner": 0.32, "paddingOuter": 0.329, "align": 0.256}},
     "xOffset": {"field": "s", "type": "nominal", "scale": {"domain": ["1","2","3"]}},
     "y": {"field": "v", "type": "quantitative", "scale": {"domain": [0.91,1.7], "range": [230,121], "nice": false, "zero": false}, "axis": null},
     "y2": {"datum": 0.91},
     "fill": {"field": "s", "type": "nominal", "scale": {"domain": ["1","2","3","4","5"], "range": ["#8f8f8f","#161616","#d4d4d4","#161616","#161616"]}}
    }},
   {"transform": [{"filter": "datum.s == '4'"}], "mark": {"type": "line", "stroke": "#1e1e1e", "strokeWidth": 2},
    "encoding": {
     "x": {"field": "d", "type": "ordinal", "bandPosition": 0.33, "scale": {"domain": ["1VIII","10VIII","20VIII","30VIII","10IX"], "paddingInner": 0.32, "paddingOuter": 0.329, "align": 0.256}},
     "y": {"field": "v", "type": "quantitative", "scale": {"domain": [6,11.8], "range": [157.9,0.1], "nice": false, "zero": false}, "axis": null},
     "order": {"value": null}
    }},
   {"transform": [{"filter": "datum.s == '5'"}], "mark": {"type": "line", "stroke": "#1e1e1e", "strokeWidth": 2, "strokeDash": [8,5]},
    "encoding": {
     "x": {"field": "d", "type": "ordinal", "bandPosition": 0.33, "scale": {"domain": ["1VIII","10VIII","20VIII","30VIII","10IX"], "paddingInner": 0.32, "paddingOuter": 0.329, "align": 0.256}},
     "y": {"field": "v", "type": "quantitative", "scale": {"domain": [55.2,70.53], "range": [230,0], "nice": false, "zero": false}, "axis": null},
     "order": {"value": null}
    }}
  ]},
 {"width": 170, "height": 230, "title": {"text": "1971г", "dx": -2, "offset": -51},
  "transform": [{"filter": "datum.yr == 1971"}], "resolve": {"scale": {"y": "independent"}},
  "layer": [
   {"transform": [{"filter": "datum.s == '1' || datum.s == '3'"}], "mark": {"type": "bar", "stroke": "#1e1e1e", "strokeWidth": 1.3},
    "encoding": {
     "x": {"field": "d", "type": "ordinal", "scale": {"domain": ["1VIII","10VIII","20VIII","30VIII","10IX"], "paddingInner": 0.32, "paddingOuter": 0.532, "align": 0.19}, "axis": {"values": ["1VIII","10VIII","20VIII","30VIII","10IX"], "ticks": false, "labelPadding": 6, "labelOffset": -25, "labelFontSize": 12, "labelAngle": 0, "title": null}},
     "xOffset": {"field": "s", "type": "nominal", "scale": {"domain": ["1","2","3"]}},
     "y": {"field": "v", "type": "quantitative", "scale": {"domain": [1,5], "range": [230,124], "nice": false, "zero": false}, "axis": null},
     "y2": {"datum": 1},
     "fill": {"field": "s", "type": "nominal", "scale": {"domain": ["1","2","3","4","5"], "range": ["#8f8f8f","#161616","#d4d4d4","#161616","#161616"]}}
    }},
   {"transform": [{"filter": "datum.s == '2'"}], "mark": {"type": "bar", "stroke": "#1e1e1e", "strokeWidth": 1.3},
    "encoding": {
     "x": {"field": "d", "type": "ordinal", "scale": {"domain": ["1VIII","10VIII","20VIII","30VIII","10IX"], "paddingInner": 0.32, "paddingOuter": 0.532, "align": 0.19}},
     "xOffset": {"field": "s", "type": "nominal", "scale": {"domain": ["1","2","3"]}},
     "y": {"field": "v", "type": "quantitative", "scale": {"domain": [0.91,1.7], "range": [230,121], "nice": false, "zero": false},
           "axis": {"orient": "right", "offset": 0, "values": [1.0,1.1,1.2,1.3,1.4,1.5,1.6], "tickSize": -5, "labelPadding": 9, "labelAlign": "left", "labelExpr": "indexof(['1.0','1.2','1.4','1.6'], format(datum.value, '.1f')) >= 0 ? replace(format(datum.value, '.1f'), '.', ',') : ''", "title": null}},
     "y2": {"datum": 0.91},
     "fill": {"field": "s", "type": "nominal", "scale": {"domain": ["1","2","3","4","5"], "range": ["#8f8f8f","#161616","#d4d4d4","#161616","#161616"]}}
    }},
   {"transform": [{"filter": "datum.s == '4'"}], "mark": {"type": "line", "stroke": "#1e1e1e", "strokeWidth": 2},
    "encoding": {
     "x": {"field": "d", "type": "ordinal", "bandPosition": 0.33, "scale": {"domain": ["1VIII","10VIII","20VIII","30VIII","10IX"], "paddingInner": 0.32, "paddingOuter": 0.532, "align": 0.19}},
     "y": {"field": "v", "type": "quantitative", "scale": {"domain": [6,11.8], "range": [157.9,0.1], "nice": false, "zero": false}, "axis": null},
     "order": {"value": null}
    }},
   {"transform": [{"filter": "datum.s == '5'"}], "mark": {"type": "line", "stroke": "#1e1e1e", "strokeWidth": 2, "strokeDash": [8,5]},
    "encoding": {
     "x": {"field": "d", "type": "ordinal", "bandPosition": 0.33, "scale": {"domain": ["1VIII","10VIII","20VIII","30VIII","10IX"], "paddingInner": 0.32, "paddingOuter": 0.532, "align": 0.19}},
     "y": {"field": "v", "type": "quantitative", "scale": {"domain": [55.2,70.53], "range": [230,0], "nice": false, "zero": false}, "axis": null},
     "order": {"value": null}
    }}
  ]}
]
}
